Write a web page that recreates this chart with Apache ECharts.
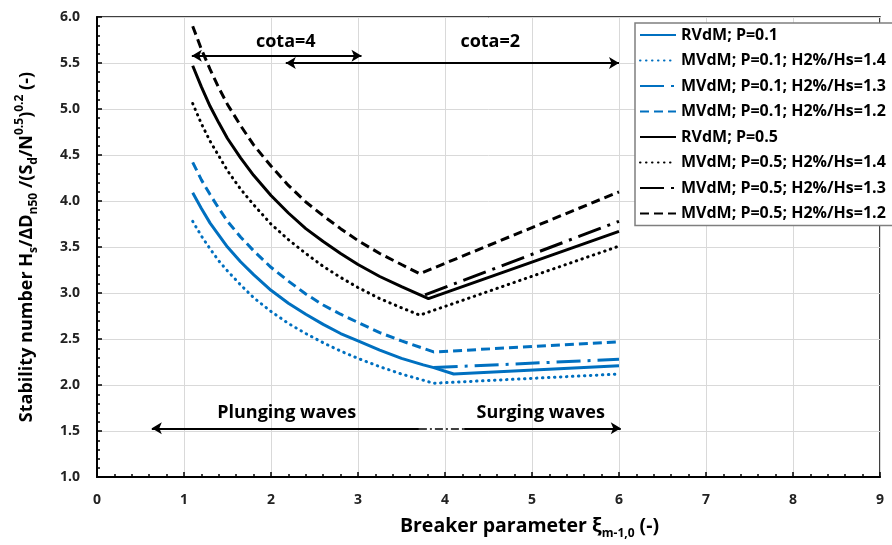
<!DOCTYPE html>
<html>
<head>
<meta charset="utf-8">
<script src="https://cdn.jsdelivr.net/npm/echarts@6.0.0/dist/echarts.min.js"></script>
<style>
  html, body { margin: 0; padding: 0; background: #fff; }
  #chart { width: 892px; height: 545px; }
</style>
</head>
<body>
<div id="chart"></div>
<script>
// series names, in legend order
const seriesNames = [
  "RVdM; P=0.1",
  "MVdM; P=0.1; H2%/Hs=1.4",
  "MVdM; P=0.1; H2%/Hs=1.3",
  "MVdM; P=0.1; H2%/Hs=1.2",
  "RVdM; P=0.5",
  "MVdM; P=0.5; H2%/Hs=1.4",
  "MVdM; P=0.5; H2%/Hs=1.3",
  "MVdM; P=0.5; H2%/Hs=1.2"
];

// [xi, stability number]
const rvdm01 = [[1.1,4.09],[1.2,3.92],[1.3,3.76],[1.4,3.63],[1.5,3.50],[1.65,3.34],[1.8,3.20],[2.0,3.03],[2.2,2.89],[2.4,2.77],[2.6,2.66],[2.8,2.56],[3.0,2.48],[3.25,2.38],[3.5,2.29],[3.75,2.22],[3.87,2.19],[4.1,2.12],[6.0,2.21]];
const mvdm01_14 = [[1.1,3.78],[1.2,3.62],[1.3,3.48],[1.4,3.35],[1.5,3.24],[1.65,3.09],[1.8,2.95],[2.0,2.80],[2.2,2.67],[2.4,2.56],[2.6,2.46],[2.8,2.37],[3.0,2.29],[3.25,2.20],[3.5,2.12],[3.87,2.02],[6.0,2.12]];
const mvdm01_13 = [[3.87,2.19],[6.0,2.28]];
const mvdm01_12 = [[1.1,4.42],[1.2,4.23],[1.3,4.07],[1.4,3.92],[1.5,3.78],[1.65,3.61],[1.8,3.46],[2.0,3.28],[2.2,3.13],[2.4,2.99],[2.6,2.87],[2.8,2.77],[3.0,2.68],[3.25,2.57],[3.5,2.48],[3.87,2.36],[6.0,2.47]];
const rvdm05 = [[1.1,5.47],[1.2,5.24],[1.3,5.03],[1.4,4.85],[1.5,4.68],[1.65,4.47],[1.8,4.28],[2.0,4.06],[2.2,3.87],[2.4,3.70],[2.6,3.56],[2.8,3.43],[3.0,3.31],[3.25,3.18],[3.5,3.07],[3.81,2.94],[6.0,3.67]];
const mvdm05_14 = [[1.1,5.06],[1.2,4.84],[1.3,4.65],[1.4,4.49],[1.5,4.33],[1.65,4.13],[1.8,3.96],[2.0,3.75],[2.2,3.58],[2.4,3.43],[2.6,3.29],[2.8,3.17],[3.0,3.06],[3.25,2.94],[3.5,2.84],[3.71,2.76],[6.0,3.51]];
const mvdm05_13 = [[3.77,2.98],[6.0,3.78]];
const mvdm05_12 = [[1.1,5.90],[1.2,5.65],[1.3,5.43],[1.4,5.23],[1.5,5.05],[1.65,4.82],[1.8,4.61],[2.0,4.38],[2.2,4.17],[2.4,3.99],[2.6,3.84],[2.8,3.70],[3.0,3.57],[3.25,3.43],[3.5,3.31],[3.71,3.21],[6.0,4.10]];

// annotation arrows [from, to] and texts [label, x, y]
const arrowCota4 = [[1.09,5.58],[3.04,5.58]];
const arrowCota2 = [[2.17,5.50],[6.0,5.50]];
const arrowPlunging = [[3.70,1.53],[0.63,1.53]];
const arrowSurging = [[4.22,1.53],[6.02,1.53]];
const transitionLine = [[3.70,1.53],[4.22,1.53]];
const noteTexts = [["cota=4",2.17,5.73],["cota=2",4.52,5.73],["Plunging waves",2.18,1.70],["Surging waves",5.10,1.70]];

const BLUE = "#0070C0";
const FONT = "Open Sans";

const chart = echarts.init(document.getElementById("chart"));

function curve(name, data, color, type, width, cap) {
  return {
    name: name,
    type: "line",
    data: data,
    symbol: "none",
    lineStyle: { color: color, width: width, type: type, cap: cap || "butt" },
    itemStyle: { color: color, opacity: 0 },
    emphasis: { disabled: true },
    z: 3
  };
}

const subStyle = { fontFamily: FONT, fontWeight: "bold", fontSize: 12, color: "#000", verticalAlign: "bottom" };
const supStyle = { fontFamily: FONT, fontWeight: "bold", fontSize: 12, color: "#000", verticalAlign: "top" };

const option = {
  animation: false,
  backgroundColor: "#fff",
  grid: {
    left: 97, right: 12, top: 17, bottom: 63,
    show: true, borderColor: "#000", borderWidth: 1.5
  },
  legend: {
    data: seriesNames,
    orient: "vertical",
    left: 635,
    top: 23,
    padding: [4, 40, 4, 4],
    itemWidth: 36,
    itemHeight: 14,
    itemGap: 9.5,
    backgroundColor: "#fff",
    borderColor: "#7f7f7f",
    borderWidth: 1.5,
    borderRadius: 0,
    itemStyle: { opacity: 0 },
    textStyle: { fontFamily: FONT, fontWeight: "bold", fontSize: 16, color: "#000", lineHeight: 16 }
  },
  xAxis: {
    type: "value",
    min: 0, max: 9, interval: 1,
    axisLine: { lineStyle: { color: "#000", width: 2 } },
    axisTick: { inside: true, length: 5, lineStyle: { color: "#000", width: 1.5 } },
    minorTick: { show: true, splitNumber: 5, length: 3, lineStyle: { color: "#000", width: 1.5 } },
    splitLine: { show: true, lineStyle: { color: "#d9d9d9", width: 1 } },
    axisLabel: { margin: 16, fontFamily: FONT, fontWeight: "bold", fontSize: 14, color: "#222" },
    name: "Breaker parameter ξ{sub|m-1,0} (-)",
    nameLocation: "middle",
    nameGap: 27,
    nameTextStyle: {
      fontFamily: FONT, fontWeight: "bold", fontSize: 19.5, color: "#000",
      lineHeight: 28, padding: [0, 0, 0, 82],
      rich: { sub: subStyle }
    }
  },
  yAxis: {
    type: "value",
    min: 1, max: 6, interval: 0.5,
    axisLine: { show: true, lineStyle: { color: "#000", width: 2 } },
    axisTick: { show: true, inside: true, length: 5, lineStyle: { color: "#000", width: 1.5 } },
    minorTick: { show: true, splitNumber: 5, length: 3, lineStyle: { color: "#000", width: 1.5 } },
    splitLine: { show: true, lineStyle: { color: "#d9d9d9", width: 1 } },
    axisLabel: {
      margin: 17, fontFamily: FONT, fontWeight: "bold", fontSize: 14, color: "#222",
      formatter: v => v.toFixed(1)
    },
    name: "Stability number H{sub|s}/ΔD{sub|n50} /(S{sub|d}/N{sup|0.5}){sup|0.2} (-)",
    nameLocation: "middle",
    nameRotate: 90,
    nameGap: 57,
    nameTextStyle: {
      fontFamily: FONT, fontWeight: "bold", fontSize: 18, color: "#000",
      lineHeight: 26,
      rich: { sub: subStyle, sup: supStyle }
    }
  },
  series: [
    {
      name: "notes",
      type: "line",
      data: [],
      silent: true,
      z: 2,
      markLine: {
        silent: true,
        animation: false,
        symbol: ["arrow", "arrow"],
        symbolSize: [9, 10],
        label: { show: false },
        lineStyle: { color: "#000", width: 2, type: "solid" },
        emphasis: { disabled: true },
        data: [
          [{ coord: arrowCota4[0] }, { coord: arrowCota4[1] }],
          [{ coord: arrowCota2[0] }, { coord: arrowCota2[1] }],
          [{ coord: arrowPlunging[0], symbol: "none" }, { coord: arrowPlunging[1] }],
          [{ coord: arrowSurging[0], symbol: "none" }, { coord: arrowSurging[1] }],
          [{ coord: transitionLine[0], symbol: "none", lineStyle: { type: [8, 3, 2, 3], width: 1.5 } },
           { coord: transitionLine[1], symbol: "none" }]
        ]
      },
      markPoint: {
        silent: true,
        animation: false,
        symbol: "rect",
        symbolSize: 1,
        itemStyle: { color: "rgba(0,0,0,0)" },
        label: {
          show: true, position: "inside", formatter: "{b}",
          fontFamily: FONT, fontWeight: "bold", fontSize: 18, color: "#000"
        },
        data: noteTexts.map(t => ({ name: t[0], coord: [t[1], t[2]] }))
      }
    },
    curve(seriesNames[0], rvdm01, BLUE, "solid", 3),
    curve(seriesNames[1], mvdm01_14, BLUE, [0.5, 5.5], 3, "round"),
    curve(seriesNames[2], mvdm01_13, BLUE, [24, 7, 3, 7], 3),
    curve(seriesNames[3], mvdm01_12, BLUE, [9, 5], 3),
    curve(seriesNames[4], rvdm05, "#000", "solid", 3),
    curve(seriesNames[5], mvdm05_14, "#000", [0.5, 5.5], 3, "round"),
    curve(seriesNames[6], mvdm05_13, "#000", [24, 7, 3, 7], 3),
    curve(seriesNames[7], mvdm05_12, "#000", [9, 5], 3)
  ]
};

chart.setOption(option);
</script>
</body>
</html>
